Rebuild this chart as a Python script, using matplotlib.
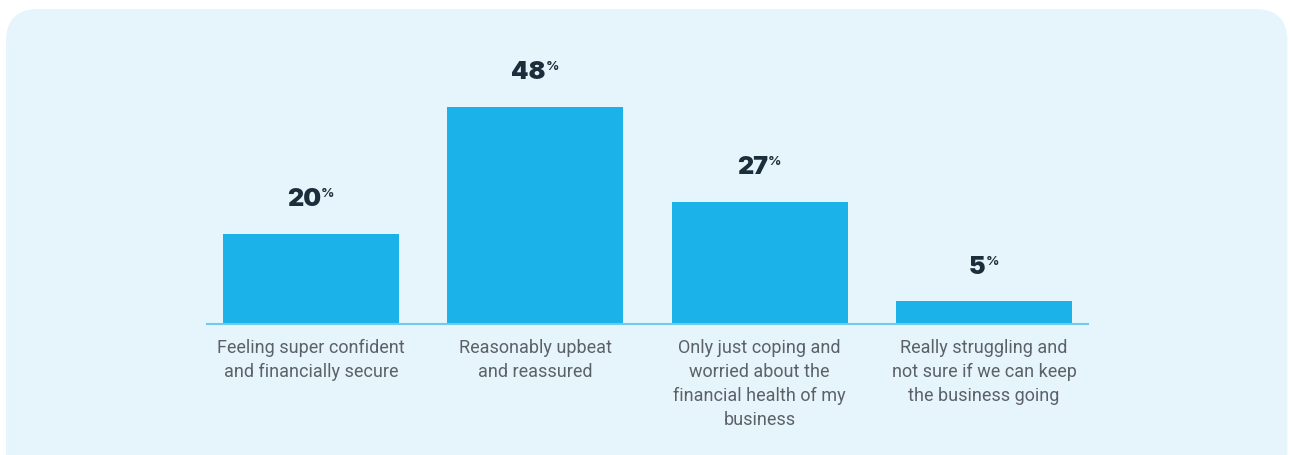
import matplotlib.pyplot as plt
from matplotlib.patches import FancyBboxPatch

categories = [
    "Feeling super confident\nand financially secure",
    "Reasonably upbeat\nand reassured",
    "Only just coping and\nworried about the\nfinancial health of my\nbusiness",
    "Really struggling and\nnot sure if we can keep\nthe business going",
]
values = [20, 48, 27, 5]

bg_color = "#E6F5FB"
bar_color = "#1AB2E8"
axis_color = "#6CCBEE"
value_color = "#1C2D3B"
label_color = "#5C6168"

fig = plt.figure(figsize=(12.9, 4.56), dpi=100)
fig.patch.set_facecolor("white")

# rounded light-blue panel behind the chart
panel = FancyBboxPatch((6 / 1290, -0.1), (1290 - 6) / 1290 - 0.002, 1.0 - 10 / 456 + 0.1,
                       boxstyle="round,pad=0,rounding_size=0.025",
                       transform=fig.transFigure, facecolor=bg_color,
                       edgecolor="none", zorder=-10, mutation_aspect=1290 / 456)
fig.patches.append(panel)

ax = fig.add_axes([207 / 1290, (456 - 325) / 456, (1088 - 207) / 1290, (325 - 52) / 456])
ax.set_facecolor("none")
ax.set_zorder(1)

x = range(len(values))
ax.bar(x, values, width=0.785, color=bar_color, zorder=2)
ax.set_xlim(-0.4637, 3.4637)
ax.set_ylim(0, 60.4)

for spine in ["top", "right", "left"]:
    ax.spines[spine].set_visible(False)
ax.spines["bottom"].set_color(axis_color)
ax.spines["bottom"].set_linewidth(1.5)
ax.set_yticks([])
ax.set_xticks(list(x))
ax.set_xticklabels(categories, color=label_color, fontsize=13, family="Roboto",
                   linespacing=1.42)
ax.tick_params(axis="x", length=0, pad=10)

for i, v in enumerate(values):
    t = ax.annotate(str(v), xy=(i, v), xytext=(-5, 17), textcoords="offset points",
                    ha="center", va="bottom", fontsize=18, fontweight="black",
                    family="Inter", color=value_color)
    ax.annotate("%", xy=(1, 1), xycoords=t, xytext=(0, 0), textcoords="offset points",
                ha="left", va="top", fontsize=9.5, fontweight="bold",
                family="Inter", color=value_color)

fig.savefig("out.png", dpi=100, facecolor=fig.get_facecolor())
